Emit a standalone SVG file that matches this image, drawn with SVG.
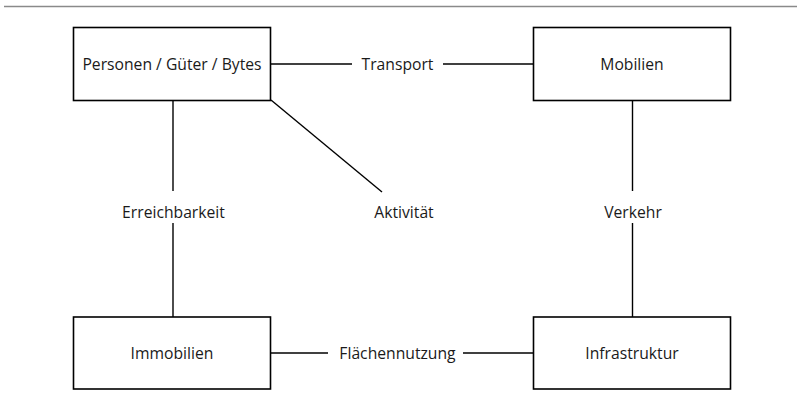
<svg xmlns="http://www.w3.org/2000/svg" width="797" height="407" viewBox="0 0 797 407">
  <style>
    .box { fill: #ffffff; stroke: #000000; stroke-width: 1.6; }
    .edge { fill: none; stroke: #000000; stroke-width: 1.4; }
    text { font-family: "Open Sans", "Noto Sans", sans-serif; font-size: 15.7px; fill: #1a1a1a; text-anchor: middle; }
  </style>
  <rect x="0" y="0" width="797" height="407" fill="#ffffff"/>
  <line x1="4" y1="6.5" x2="797" y2="6.5" stroke="#8a8a8a" stroke-width="1.6"/>

  <g id="connectors">
    <line class="edge" x1="271" y1="64" x2="352" y2="64"/>
    <line class="edge" x1="443" y1="64" x2="533" y2="64"/>
    <text x="397.5" y="69.5">Transport</text>

    <line class="edge" x1="173" y1="100" x2="173" y2="191"/>
    <line class="edge" x1="173" y1="223" x2="173" y2="317"/>
    <text x="173.5" y="217.5">Erreichbarkeit</text>

    <line class="edge" x1="271" y1="100" x2="382" y2="192"/>
    <text x="404" y="217.5">Aktivität</text>

    <line class="edge" x1="632.5" y1="100" x2="632.5" y2="191"/>
    <line class="edge" x1="632.5" y1="223" x2="632.5" y2="317"/>
    <text x="633" y="217.5">Verkehr</text>

    <line class="edge" x1="271" y1="353" x2="328" y2="353"/>
    <line class="edge" x1="463" y1="353" x2="533" y2="353"/>
    <text x="397.5" y="358.5">Flächennutzung</text>
  </g>

  <g id="personen">
    <rect class="box" x="73.5" y="27.5" width="197" height="73"/>
    <text x="172" y="69.5">Personen / Güter / Bytes</text>
  </g>
  <g id="mobilien">
    <rect class="box" x="533.5" y="27.5" width="197" height="73"/>
    <text x="632" y="69.5">Mobilien</text>
  </g>
  <g id="immobilien">
    <rect class="box" x="73.5" y="317" width="197" height="72"/>
    <text x="172" y="358.5">Immobilien</text>
  </g>
  <g id="infrastruktur">
    <rect class="box" x="533.5" y="317" width="197" height="72"/>
    <text x="632" y="358.5">Infrastruktur</text>
  </g>
</svg>
